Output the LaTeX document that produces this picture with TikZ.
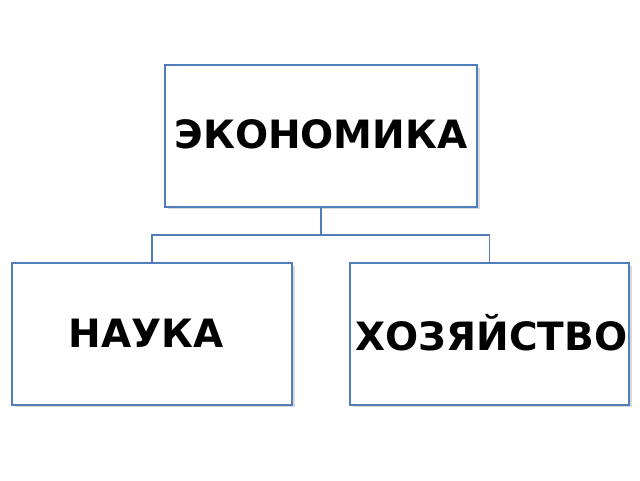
\documentclass[tikz,border=0pt]{standalone}
\usepackage{fontspec}
\setmainfont{DejaVu Sans}
\definecolor{boxblue}{HTML}{4F7EBA}
\begin{document}
\begin{tikzpicture}[x=1pt,y=1pt,
  box/.style={draw=boxblue,line width=2.8pt,fill=white,minimum width=#1,inner sep=0pt},
  conn/.style={draw=boxblue,line width=1.6pt},
  lbl/.style={font=\bfseries\fontsize{39}{41}\selectfont}]
\useasboundingbox (0,0) rectangle (640,480);
% shadows
\fill[black!15] (168,271) rectangle (480,412);
\fill[black!15] (15,73) rectangle (295,214);
\fill[black!15] (353,73) rectangle (632,214);
% boxes
\node[box=312pt,minimum height=142pt] (eco) at (321,344) {};
\node[box=280pt,minimum height=142pt] (nau) at (152,146) {};
\node[box=279pt,minimum height=142pt] (hoz) at (489.5,146) {};
\node[lbl] at ([yshift=2pt]eco.center) {ЭКОНОМИКА};
\node[lbl] at ([xshift=-6pt,yshift=1pt]nau.center) {НАУКА};
\node[lbl] at ([xshift=2pt,yshift=1pt]hoz.center) {ХОЗЯЙСТВО};
% connectors
\coordinate (mid) at (321,245);
\draw[conn] (eco.south) -- (mid);
\draw[conn] (mid) -| (nau.north);
\draw[conn] (mid) -| (hoz.north);
\end{tikzpicture}
\end{document}
